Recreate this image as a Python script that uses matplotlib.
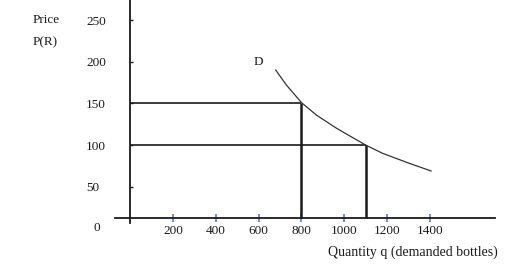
import matplotlib.pyplot as plt
import numpy as np

plt.rcParams['font.family'] = ['Liberation Serif', 'DejaVu Serif']

""" Data """

q_ticks = [200, 400, 600, 800, 1000, 1200, 1400]
p_ticks = [50, 100, 150, 200, 250]

# demand curve D
demand_q = [680, 730, 800, 870, 965, 1100, 1180, 1305, 1405]
demand_p = [190, 172, 151, 136, 120, 100, 90, 78, 69]

# the two price / quantity points marked on the curve
marked_q = [800, 1100]
marked_p = [150, 100]

""" Plot """

fig = plt.figure(figsize=(5.15, 2.75), dpi=100)
ax = fig.add_axes([0, 0, 1, 1])
ax.set_xlim(-607, 1797)
ax.set_ylim(-55.8, 274)

ink = '#1a1a1a'

# axes drawn as spines
for s in ['top', 'right']:
    ax.spines[s].set_visible(False)
ax.spines['left'].set_position(('data', 0))
ax.spines['left'].set_bounds(6.6, 274)
ax.spines['bottom'].set_position(('data', 12.6))
ax.spines['bottom'].set_bounds(-70, 1703)
for s in ['left', 'bottom']:
    ax.spines[s].set_color(ink)
    ax.spines[s].set_linewidth(1.3)

ax.set_xticks(q_ticks, [str(v) for v in q_ticks])
ax.tick_params(axis='x', direction='inout', length=6, width=1.1,
               color='#4a78c8', pad=2, labelsize=9.5, labelcolor=ink)
ax.set_yticks(p_ticks, [str(v) for v in p_ticks])
ax.tick_params(axis='y', direction='in', length=2, width=1,
               color=ink, pad=31.7, labelsize=9.5, labelcolor=ink)
for lab in ax.get_yticklabels():
    lab.set_horizontalalignment('left')

# guide lines to the marked points
for q, p in zip(marked_q, marked_p):
    ax.plot([0, q], [p, p], color=ink, lw=1.2, solid_capstyle='butt')
    ax.plot([q, q], [12.6, p], color=ink, lw=1.8, solid_capstyle='butt')

ax.plot(demand_q, demand_p, color='#333333', lw=0.9)
ax.text(597, 200, 'D', fontsize=9.5, ha='center', va='center', color=ink)

ax.text(-154, 0, '0', fontsize=9.5, ha='center', va='center', color=ink)
ax.text(-457, 250, 'Price', fontsize=9.5, ha='left', va='center', color=ink)
ax.text(-457, 223.6, 'P(R)', fontsize=9.5, ha='left', va='center', color=ink)
ax.text(1321, -28.2, 'Quantity q (demanded bottles)', fontsize=10,
        ha='center', va='center', color=ink)

fig.savefig('out.png', dpi=100)
